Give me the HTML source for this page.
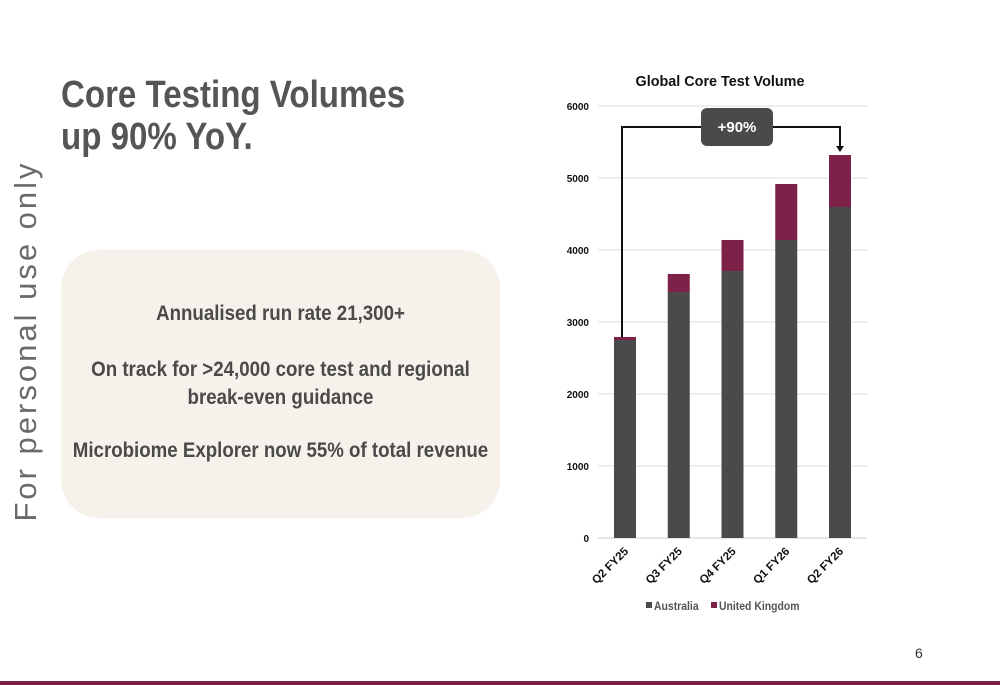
<!DOCTYPE html>
<html><head><meta charset="utf-8"><style>
body{margin:0;width:1000px;height:685px;background:#fff;position:relative;overflow:hidden;font-family:"Liberation Sans",sans-serif}
.t{position:absolute;font-weight:bold;color:#555;white-space:nowrap}
.b{left:-20px;width:601px;text-align:center;font-size:21px;color:#4a4a4a;transform:scaleX(0.89);transform-origin:center}
</style></head><body>
<div style="position:absolute;left:26px;top:341px;transform:translate(-50%,-50%) rotate(-90deg);white-space:nowrap;font-size:31px;letter-spacing:3px;color:#6a6a6a">For personal use only</div>
<div class="t" style="left:61px;top:74px;font-size:38px;line-height:42px;color:#555;transform:scaleX(0.87);transform-origin:left">Core Testing Volumes<br>up 90% YoY.</div>
<div style="position:absolute;left:61px;top:250px;width:439px;height:268px;background:#f6f1eb;border-radius:38px"></div>
<div class="t b" style="top:302px">Annualised run rate 21,300+</div>
<div class="t b" style="top:356px;line-height:28px">On track for &gt;24,000 core test and regional<br>break-even guidance</div>
<div class="t b" style="top:439px">Microbiome Explorer now 55% of total revenue</div>
<div style="position:absolute;left:915px;top:645px;font-size:14px;color:#333">6</div>
<div style="position:absolute;left:0;top:681px;width:1000px;height:4px;background:#7a1f45"></div>
<svg id="c" width="1000" height="685" style="position:absolute;left:0;top:0"></svg>
<script>
const categories=["Q2 FY25","Q3 FY25","Q4 FY25","Q1 FY26","Q2 FY26"];
const australia=[2750,3417,3708,4139,4597];
const uk=[42,250,431,778,722];
const yTicks=[0,1000,2000,3000,4000,5000,6000];
const NS="http://www.w3.org/2000/svg",svg=document.getElementById('c');
const y=v=>538-v*0.072, xc=i=>625+i*53.75;
function el(t,a,txt){const e=document.createElementNS(NS,t);for(const k in a)e.setAttribute(k,a[k]);if(txt!=null)e.textContent=txt;svg.appendChild(e);return e;}
const title=el('text',{x:720,y:86,'text-anchor':'middle','font-size':15,'font-weight':'bold',fill:'#111','font-family':'Liberation Sans',transform:'translate(720 0) scale(0.96 1) translate(-720 0)'},'Global Core Test Volume');


yTicks.forEach(v=>{
 const g=el('line',{x1:598,x2:867,y1:y(v),y2:y(v),stroke:v?'#ddd':'#ccc','stroke-width':1});
 
 
 const t=el('text',{x:589,y:y(v)+4,'text-anchor':'end','font-size':10,'font-weight':'bold',fill:'#111','font-family':'Liberation Sans'},v);
 
 
});
categories.forEach((c,i)=>{
 const a=el('rect',{x:xc(i)-11,y:y(australia[i]),width:22,height:y(0)-y(australia[i]),fill:'#4a4a4a'});
 
 
 const u=el('rect',{x:xc(i)-11,y:y(australia[i]+uk[i]),width:22,height:y(australia[i])-y(australia[i]+uk[i]),fill:'#7d2148'});
 
 
 const t=el('text',{x:xc(i)+4,y:552,'text-anchor':'end','font-size':11.5,'font-weight':'bold',fill:'#111','font-family':'Liberation Sans',transform:`rotate(-45 ${xc(i)+4} 552)`},c);
 
 
});
const first=australia[0]+uk[0],last=australia[4]+uk[4];
const br=el('path',{d:`M${xc(0)-3},${y(first)} V127 H${xc(4)} V${y(last)-8}`,fill:'none',stroke:'#111','stroke-width':2});


const ar=el('path',{d:`M${xc(4)-4},${y(last)-9} L${xc(4)+4},${y(last)-9} L${xc(4)},${y(last)-3}Z`,fill:'#111'});


const bx=el('rect',{x:701,y:108,width:72,height:38,rx:6,fill:'#4a4a4a'});


const gl=el('text',{x:737,y:132,'text-anchor':'middle','font-size':15,'font-weight':'bold',fill:'#fff','font-family':'Liberation Sans'},'+90%');


[['#4a4a4a','Australia',646],['#7d2148','United Kingdom',711]].forEach(([c,n,x])=>{
 const s=el('rect',{x:x,y:602,width:6,height:6,fill:c});
 
 
 const t=el('text',{x:x+8,y:610,'font-size':12,'font-weight':'bold',fill:'#555','font-family':'Liberation Sans',transform:`translate(${x+8} 0) scale(0.87 1) translate(${-(x+8)} 0)`},n);
 
 
});
</script>
</body></html>
